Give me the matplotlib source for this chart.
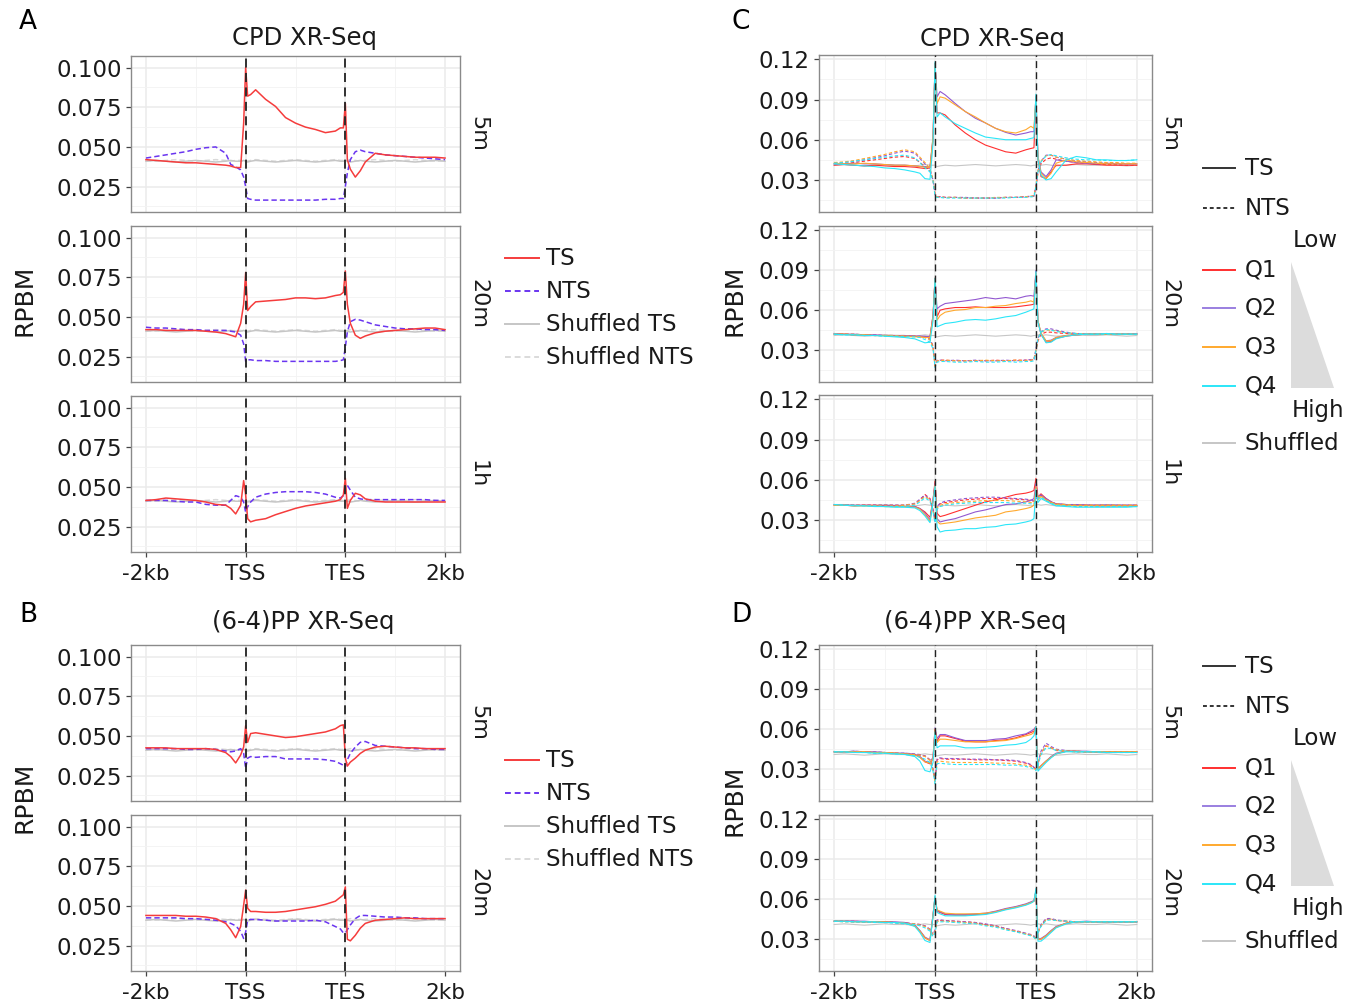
import matplotlib
matplotlib.use("Agg")
import matplotlib.pyplot as plt
import numpy as np
from matplotlib.patches import Polygon

W, H = 1360, 1005
plt.rcParams["font.family"] = ["DejaVu Sans"]

# bin positions: -2kb=0, TSS=1, TES=2, 2kb=3
POS = [0, 0.1, 0.2, 0.3, 0.4, 0.5, 0.6, 0.7, 0.8, 0.85, 0.9, 0.95, 0.98, 1.0,
       1.02, 1.05, 1.1, 1.2, 1.3, 1.4, 1.5, 1.6, 1.7, 1.8, 1.9, 1.95, 1.98, 2.0,
       2.02, 2.05, 2.1, 2.15, 2.2, 2.3, 2.4, 2.5, 2.6, 2.7, 2.8, 2.9, 3.0]
X_TICKS = [0, 1, 2, 3]
X_TICK_LABELS = ["-2kb", "TSS", "TES", "2kb"]
AB_YTICKS = [0.025, 0.05, 0.075, 0.1]
AB_YLABELS = ["0.025", "0.050", "0.075", "0.100"]
CD_YTICKS = [0.03, 0.06, 0.09, 0.12]
CD_YLABELS = ["0.03", "0.06", "0.09", "0.12"]

# values in RPBM x 1000
# ---- A: CPD XR-Seq, TS / NTS ----
A5_TS = [42, 41.5, 41, 40.5, 40, 40, 39.5, 39, 38.5, 38, 37, 37, 65, 100,
         82, 83, 86, 80, 75.5, 68.5, 65, 62.5, 61, 59, 60, 62, 62, 77.5,
         42, 36, 31, 35, 40.5, 46, 45, 44.5, 44, 43.5, 43.5, 43.5, 43]
A5_NTS = [43, 44, 45, 46, 47, 48.5, 49.5, 50, 46, 39, 37.5, 35.5, 31, 25,
          17.5, 17, 16.5, 16.5, 16.5, 16.5, 16.5, 16.5, 16.5, 17, 17, 17.5, 17.5, 25,
          33.5, 42, 47, 48, 47, 46, 45, 44.5, 44, 43.5, 43, 42.5, 42]
A20_TS = [42, 42, 41.5, 41.5, 41.5, 41.5, 41, 40.5, 39.5, 38.5, 37.5, 46, 58, 78,
          54, 56.5, 59.5, 60, 60.5, 61, 62, 62, 61.5, 62, 63.5, 64, 65.5, 79,
          58, 46, 38.5, 36.5, 38, 40, 41, 41.5, 42, 42.5, 43, 43, 42]
A20_NTS = [43.5, 43, 43, 42.5, 42, 42, 41.5, 41.5, 41.5, 41, 40.5, 38.5, 33, 22,
           23, 23, 22.5, 22.5, 22, 22, 22, 22, 22, 22, 22, 22.5, 23, 31,
           40.5, 47, 48.5, 48, 47, 45, 44, 43, 42.5, 42.5, 42, 42, 41.5]
A1_TS = [41.5, 42, 43, 42.5, 42, 41.5, 40.5, 39, 38.5, 36.5, 33, 38.5, 54, 45,
         30, 28, 29, 30, 32.5, 34.5, 36.5, 38, 39, 40, 41, 42, 45, 55.5,
         36.5, 41.5, 46, 45, 42.5, 41, 40.5, 40.5, 40.5, 40.5, 40.5, 40.5, 40.5]
A1_NTS = [41.5, 41.5, 41.5, 41, 40.5, 40.5, 39, 38.5, 38.5, 41.5, 44.5, 43.5, 40.5, 34,
          37.5, 40.5, 43.5, 45.5, 46.5, 47, 47, 47, 46.5, 45.5, 43.5, 43, 44.5, 50,
          51, 48, 43.5, 42.5, 42, 42, 42, 42, 42, 42, 42, 41.5, 41.5]

# ---- B: (6-4)PP XR-Seq, TS / NTS ----
B5_TS = [42.5, 42.5, 42.5, 42, 42, 42, 42, 41.5, 39.5, 37, 33, 38, 43, 56.5,
         46, 51.5, 52, 51, 50, 49, 49.5, 50.5, 51.5, 52.5, 54.5, 56.5, 57, 36,
         31, 33.5, 36, 39, 41, 43, 43.5, 43, 42.5, 42.5, 42, 42, 42]
B5_NTS = [42, 42, 42, 42, 41.5, 41.5, 42, 41.5, 40.5, 40, 40.5, 42, 39, 29.5,
          36, 37, 36.5, 37, 37, 35.5, 35.5, 35.5, 35.5, 35, 34, 32.5, 31.5, 30.5,
          35, 39, 43, 46, 46.5, 44, 43.5, 43, 42.5, 42, 42, 41.5, 41.5]
B20_TS = [44, 44, 44, 44, 43.5, 43.5, 43, 42, 39, 35, 30, 37, 50.5, 60,
          48.5, 46.5, 46.5, 46, 46, 46.5, 47.5, 48.5, 49.5, 51, 53, 55.5, 57, 62,
          29, 28, 31.5, 36, 39, 41, 41.5, 42, 42.5, 42, 42, 42, 42]
B20_NTS = [42.5, 42.5, 42.5, 42.5, 42, 42, 41.5, 41, 40, 39, 37.5, 34, 29.5, 33.5,
           41, 41.5, 41.5, 41, 40.5, 40.5, 40.5, 40.5, 41, 40, 37, 35.5, 33, 33,
           35, 38, 42, 44, 44, 43.5, 43, 43, 42.5, 42.5, 42, 42, 42]

SHUF_TS = [41, 41.5, 41, 40.5, 41, 41.5, 41, 40.5, 41, 41.5, 41, 41, 41.5, 41,
           40.5, 41, 41.5, 41, 40.5, 41, 41.5, 41, 40.5, 41, 41.5, 41, 41, 41.5,
           41, 40.5, 41, 41.5, 41, 40.5, 41, 41.5, 41, 40.5, 41, 41.5, 41]
SHUF_NTS = [41.5, 41, 41.5, 42, 41.5, 41, 41.5, 42, 41.5, 41, 41.5, 41.5, 41, 41.5,
            41, 41.5, 42, 41.5, 41, 41.5, 42, 41.5, 41, 41.5, 42, 41.5, 41.5, 41,
            41.5, 42, 41.5, 41, 41.5, 42, 41.5, 41, 41.5, 42, 41.5, 41, 41.5]

# ---- C: CPD XR-Seq by expression quartile ----
C5_Q1 = [41, 41.5, 41, 40.5, 41, 40.5, 40, 40, 39.5, 39, 38.5, 39, 60, 117,
         80, 80, 78.5, 71, 65, 60, 56, 53.5, 51, 50, 52.5, 53.5, 54, 90,
         45, 32.5, 31, 36, 41, 41, 42, 42, 41.5, 41, 41, 41, 41]
C5_Q2 = [42, 42, 42.5, 42, 42, 41.5, 41, 41, 40.5, 40, 40, 39.5, 62, 117,
         92, 96, 93.5, 87, 81, 76, 72.5, 68.5, 65.5, 63.5, 65, 66, 66, 92,
         47.5, 36, 32.5, 37.5, 45, 44, 43, 42.5, 42, 42.5, 42, 42, 42]
C5_Q3 = [42.5, 42, 42, 42.5, 42, 41.5, 41, 41, 40.5, 40, 39.5, 39.5, 62, 117,
         87, 92, 91, 86, 81, 77, 72.5, 68.5, 66, 65, 67.5, 70, 68.5, 92,
         47, 35, 31, 35, 42.5, 45, 43.5, 43, 42.5, 42, 42, 42, 42]
C5_Q4 = [42, 41.5, 41, 40.5, 40, 39, 38.5, 37.5, 36, 35, 31, 30.5, 57, 118,
         77, 80, 77, 72, 68.5, 65, 62, 61, 60, 60, 60, 61, 61.5, 94,
         45, 33.5, 30, 31, 36, 45, 47.5, 46.5, 45, 45, 44.5, 44.5, 45]
C5_N1 = [42, 42, 43, 44, 45, 46, 47, 47.5, 46, 43, 40, 37, 30, 20,
         17.5, 17.5, 17, 17, 16.5, 16.5, 16.5, 16.5, 17, 17, 17.5, 17.5, 18, 25,
         35, 42, 45.5, 46.5, 45.5, 44, 43, 42.5, 42, 41.5, 41.5, 41, 41]
C5_N2 = [42.5, 43, 44, 45, 46.5, 48, 50, 51.5, 50, 46, 42, 38, 30, 19,
         17.5, 17.5, 17, 17, 17, 16.5, 16.5, 16.5, 17, 17, 17.5, 18, 18, 26,
         37, 44, 48.5, 48.5, 47, 45.5, 44, 43.5, 43, 42.5, 42.5, 42, 42]
C5_N3 = [43, 43.5, 44.5, 46, 47.5, 49, 51, 52.5, 51, 47, 43, 38.5, 30, 19,
         17.5, 17, 17, 17, 16.5, 16.5, 16.5, 17, 17, 17, 17.5, 18, 18, 26,
         37, 44, 48, 48.5, 47, 45.5, 44.5, 44, 43.5, 43, 43, 42.5, 42.5]
C5_N4 = [42.5, 43, 44, 45, 46, 47, 48, 48.5, 46.5, 43, 39, 36, 29, 18,
         17, 17, 16.5, 16.5, 16.5, 16.5, 16.5, 16.5, 16.5, 17, 17, 17.5, 17.5, 25,
         36, 43.5, 48, 49, 48, 46.5, 45.5, 45, 45, 44.5, 44.5, 44.5, 45]

C20_Q1 = [42, 42, 41.5, 41.5, 41, 41, 41, 40.5, 40.5, 40, 40, 40, 56, 84,
          55, 60, 61, 62, 62, 62.5, 62, 62, 62, 62.5, 63.5, 64, 64.5, 88,
          52, 42, 36, 36.5, 39, 40.5, 41.5, 42, 42, 42, 42, 42, 42]
C20_Q2 = [42.5, 42, 42, 41.5, 41.5, 41, 41, 41, 40.5, 40.5, 40.5, 40, 56, 84,
          61, 63, 65, 66, 67, 68, 69.5, 68.5, 69.5, 68.5, 70.5, 71, 70.5, 90,
          52, 42, 37, 37.5, 39.5, 41, 41.5, 42, 42, 42.5, 42, 42, 42.5]
C20_Q3 = [42, 42, 41.5, 41.5, 41, 41, 40.5, 40.5, 40, 40, 39.5, 39.5, 55, 84,
          52.5, 56, 58.5, 60, 60.5, 62, 62, 63, 63.5, 65, 66, 67, 66, 88,
          52, 43, 37, 37, 39.5, 41, 41.5, 42, 42, 42, 42, 42, 42]
C20_Q4 = [42, 41.5, 41.5, 41, 41, 40.5, 40, 39.5, 38.5, 37, 35.5, 36, 52, 84,
          47.5, 48.5, 50, 51, 52.5, 53, 52.5, 53.5, 55, 56, 58.5, 60, 61, 89,
          51, 42, 35.5, 36, 38.5, 40.5, 41.5, 42, 42, 42.5, 42, 42, 42]
C20_N1 = [42, 42, 41.5, 41.5, 41, 41, 41, 40.5, 40.5, 40, 39.5, 38, 33, 18,
          22, 22.5, 22.5, 22, 22, 22, 22, 22.5, 22, 22.5, 22.5, 22.5, 23, 30,
          37, 42, 43.5, 43.5, 43, 42.5, 42, 42, 42, 42, 42, 42, 42]
C20_N2 = [42.5, 42, 42, 41.5, 41.5, 41, 41, 41, 40.5, 40.5, 40, 38.5, 33, 18,
          22.5, 22.5, 22, 22.5, 22, 22.5, 22, 22, 22.5, 22, 22.5, 23, 23, 31,
          39, 44, 46, 46, 45, 43.5, 42.5, 42, 42, 42, 42, 42, 42]
C20_N3 = [42, 42, 42, 41.5, 41, 41, 41, 40.5, 40.5, 40, 39.5, 38, 32.5, 18,
          22, 22, 22.5, 22, 22, 22, 22.5, 22, 22, 22.5, 22, 22.5, 23, 30,
          38.5, 43.5, 45, 45, 44.5, 43, 42.5, 42, 42, 42, 42, 42, 42]
C20_N4 = [42, 41.5, 41.5, 41, 41, 40.5, 40.5, 40, 40, 39.5, 38, 36, 31, 17,
          21, 21.5, 21.5, 21, 21, 21.5, 21, 21, 21.5, 21, 21.5, 21.5, 22, 30,
          38.5, 43.5, 45.5, 45, 44, 43, 42.5, 42, 42, 42, 42, 42, 42]

C1_Q1 = [41, 41, 40.5, 41, 41, 40.5, 40.5, 40, 40, 38.5, 36, 32, 45, 59,
         35, 32.5, 33.5, 36, 38.5, 41, 43.5, 45, 47, 49, 50, 51, 52, 61,
         47, 49.5, 46, 43.5, 42, 41, 41, 41, 40.5, 40.5, 40.5, 40.5, 40.5]
C1_Q2 = [41.5, 41, 41, 41, 40.5, 40.5, 40.5, 40, 40, 38.5, 35, 30, 45, 57,
         31, 28.5, 29.5, 31, 33.5, 36, 37.5, 39.5, 41.5, 42, 43.5, 44.5, 46, 57,
         46, 48.5, 46, 43.5, 42, 41.5, 41, 41, 41, 41, 41, 41, 41]
C1_Q3 = [41, 41, 40.5, 40.5, 40.5, 40, 40, 40, 39.5, 38, 34, 29, 44, 56,
         29, 27, 27.5, 28.5, 30, 31.5, 32.5, 33.5, 36, 37, 38.5, 39.5, 41, 55,
         45, 47.5, 45, 43, 41.5, 41, 40.5, 40.5, 40.5, 40.5, 40.5, 40.5, 40.5]
C1_Q4 = [41.5, 41, 40.5, 40.5, 40, 40, 39.5, 39.5, 39, 37, 33, 28, 43, 55,
         25, 21, 22, 22.5, 23.5, 23.5, 24.5, 25, 26.5, 27, 28.5, 29.5, 31, 53,
         43, 46, 44, 42, 40.5, 40, 39.5, 39.5, 39.5, 39.5, 39.5, 39.5, 40]
C1_N1 = [41.5, 41, 41, 41, 41, 41, 41, 41, 42, 45, 49, 46, 38, 30,
         40, 42, 43, 44, 45, 45.5, 46, 46, 46, 45.5, 45, 44.5, 44, 45,
         47, 48, 45, 43, 42, 41.5, 41, 41, 41, 41, 41, 41, 41]
C1_N2 = [41.5, 41.5, 41, 41, 41, 41, 41, 41, 42.5, 45.5, 48.5, 45.5, 37.5, 29,
         40, 42.5, 44, 45, 46, 46.5, 47, 47, 46.5, 46, 45.5, 45, 44.5, 46,
         48, 48.5, 45.5, 43.5, 42, 41.5, 41.5, 41, 41, 41, 41, 41, 41]
C1_N3 = [41, 41, 41, 41, 40.5, 40.5, 40.5, 41, 42, 44.5, 47.5, 45, 37, 29,
         39, 41, 42, 43, 43.5, 44, 44.5, 44.5, 44.5, 44, 43.5, 43, 43, 45,
         47, 48, 45, 43, 42, 41.5, 41, 41, 41, 41, 41, 41, 41]
C1_N4 = [41.5, 41, 41, 40.5, 40.5, 40, 40, 40, 41, 43.5, 46.5, 44, 36, 28,
         38, 40, 41, 42, 42.5, 43, 43, 43, 43, 42.5, 42.5, 42, 42, 44,
         46, 47, 44.5, 42.5, 41, 40.5, 40, 40, 40, 40, 40, 40, 40]

# ---- D: (6-4)PP XR-Seq by expression quartile ----
D5_Q1 = [43, 43, 43, 43, 42.5, 42.5, 42, 41.5, 41, 39, 35.5, 34, 38, 60,
         51, 55, 55, 53, 51, 50.5, 50.5, 51.5, 52, 53.5, 56, 57.5, 58.5, 62,
         30, 32.5, 36, 39, 41.5, 43.5, 43.5, 43, 43, 43, 43, 43, 43]
D5_Q2 = [43, 43, 43.5, 43, 43, 42.5, 42, 42, 41, 39.5, 36, 35, 39, 61,
         53, 56, 56, 53.5, 51.5, 51.5, 51.5, 52.5, 53, 55, 56.5, 58.5, 60, 62,
         30, 32.5, 36, 39.5, 42, 43.5, 43.5, 43.5, 43, 43, 43, 43, 43]
D5_Q3 = [43, 43, 43, 43, 42.5, 42.5, 42, 41.5, 40.5, 39, 35.5, 34.5, 38, 60,
         50, 52.5, 52.5, 51.5, 50.5, 50.5, 50.5, 51, 51.5, 53, 55, 56, 57.5, 62,
         30, 32.5, 36, 39, 41.5, 43.5, 43.5, 43, 43, 43, 43, 43, 43]
D5_Q4 = [43, 43, 42.5, 42.5, 42, 42, 41.5, 41, 39.5, 36, 29, 28, 35, 58,
         46, 47.5, 47.5, 47.5, 46, 46, 46.5, 47, 48, 48.5, 50, 52.5, 55, 62,
         28.5, 31, 35, 38.5, 41.5, 43, 43, 43, 43, 42.5, 42.5, 42.5, 42.5]
D5_N1 = [43, 43, 43, 43, 42.5, 42.5, 42, 41.5, 41, 40.5, 40, 37, 30, 21,
         37, 38, 37.5, 37.5, 37.5, 37, 37, 37, 36.5, 36, 34.5, 33, 31, 30,
         34, 42, 47.5, 46, 44, 43.5, 43, 43, 43, 43, 43, 43, 43]
D5_N2 = [43, 43, 43.5, 43, 43, 42.5, 42, 42, 41.5, 41, 40, 37, 30, 21,
         38, 38.5, 38, 38, 37.5, 37.5, 37.5, 37, 37, 36.5, 35, 33.5, 31.5, 30,
         35, 43.5, 49.5, 47, 45, 44, 43.5, 43, 43, 43, 43, 43, 43]
D5_N3 = [43, 43, 43, 43, 42.5, 42.5, 42, 41.5, 41, 40.5, 39.5, 36.5, 29.5, 20,
         35.5, 36, 35.5, 35, 35, 35, 35, 34.5, 34.5, 34, 33, 32, 30.5, 29.5,
         34, 42, 47.5, 46, 44.5, 43.5, 43, 43, 43, 43, 43, 43, 43]
D5_N4 = [43, 43, 42.5, 42.5, 42, 42, 41.5, 41, 40, 39, 37.5, 35, 28.5, 19,
         34, 34.5, 34, 33.5, 33.5, 33.5, 33.5, 33.5, 33, 33, 32, 31, 30, 29,
         33, 41, 46, 45.5, 44, 43.5, 43, 43, 43, 42.5, 42.5, 42.5, 42.5]

D20_Q1 = [43.5, 43.5, 43.5, 43, 43, 43, 42.5, 42.5, 40, 36, 31, 29, 48, 61,
          51, 50, 48.5, 48, 48, 48.5, 49, 50.5, 52.5, 54, 56, 57.5, 58.5, 66,
          30, 30, 32.5, 36, 39, 42, 43, 43, 43, 43, 43, 43, 43]
D20_Q2 = [43.5, 43.5, 43.5, 43.5, 43, 43, 43, 42.5, 40.5, 36.5, 31.5, 29.5, 48.5, 62,
          51.5, 50.5, 49, 48.5, 48.5, 49, 49.5, 51, 53, 54.5, 56.5, 58, 59, 66,
          30.5, 30.5, 33, 36.5, 39.5, 42, 43, 43.5, 43, 43, 43, 43, 43]
D20_Q3 = [43.5, 43.5, 43, 43, 43, 43, 42.5, 42, 40, 36, 31, 29, 48, 62,
          52, 51, 49.5, 49, 49, 49, 49.5, 50.5, 52.5, 54, 56, 57.5, 58.5, 66,
          30, 30, 32.5, 36, 39, 42, 43, 43, 43, 43, 43, 43, 43]
D20_Q4 = [43.5, 43.5, 43, 43, 43, 42.5, 42.5, 42, 39.5, 35, 29, 27.5, 47, 63,
          50, 49, 47.5, 47.5, 47.5, 48, 48.5, 50, 52, 53.5, 55.5, 57, 58.5, 68,
          28.5, 28.5, 31.5, 35, 38.5, 41.5, 43, 43, 43, 43, 43, 43, 43]
D20_N1 = [43.5, 43.5, 43, 43, 43, 43, 42.5, 42, 41.5, 41, 40, 37, 33, 36,
          44, 44, 44, 43.5, 43, 42.5, 41, 40, 38, 36, 34, 33, 32, 30,
          35, 40, 45, 45, 44, 43.5, 43, 43, 43, 43, 43, 43, 43]
D20_N2 = [43.5, 43.5, 43.5, 43, 43, 43, 42.5, 42.5, 41.5, 41, 40, 37.5, 33.5, 37,
          44.5, 44.5, 44, 43.5, 43, 42.5, 41.5, 40, 38, 36.5, 34.5, 33.5, 32.5, 30.5,
          35.5, 41, 45.5, 45.5, 44.5, 43.5, 43, 43, 43, 43, 43, 43, 43]
D20_N3 = [43.5, 43, 43, 43, 43, 42.5, 42.5, 42, 41.5, 40.5, 39.5, 37, 33, 35.5,
          43.5, 43.5, 43.5, 43, 42.5, 42, 40.5, 39.5, 37.5, 36, 34, 33, 32, 30,
          35, 40, 44.5, 45, 44, 43.5, 43, 43, 43, 43, 43, 43, 43]
D20_N4 = [43.5, 43, 43, 43, 42.5, 42.5, 42, 41.5, 41, 40, 38.5, 36, 32, 34.5,
          43, 43, 43, 42.5, 42, 41.5, 40, 39, 37, 35.5, 33.5, 32.5, 31.5, 29.5,
          34.5, 39.5, 44, 44.5, 44, 43.5, 43, 43, 43, 43, 43, 43, 43]

SHUF_Q = [41, 41.5, 41, 40.5, 41, 41.5, 41, 41, 40.5, 41, 41.5, 41, 41, 41,
          40, 40.5, 41, 40.5, 41, 41.5, 41, 40.5, 41, 41.5, 41, 40.5, 41, 41,
          41.5, 41, 41.5, 41, 40.5, 41, 41.5, 41, 41, 41.5, 41, 40.5, 41]

RED = "#f53c3c"
BLUE = "#6a35f0"
GREY = "#c6c6c6"
LGREY = "#dadada"
Q_COLORS = ["#ff2f2f", "#9257d0", "#ffa92e", "#2be6f8"]
TXT = "#1a1a1a"


def add_px_axes(fig, left, top, right, bottom):
    return fig.add_axes([left / W, 1 - bottom / H, (right - left) / W, (bottom - top) / H])


def style_panel(ax, ylim, yticks, ylabels, yminor, show_x, vlw):
    ax.set_xlim(-0.15, 3.15)
    ax.set_ylim(*ylim)
    ax.set_xticks(X_TICKS)
    ax.set_xticks([0.5, 1.5, 2.5], minor=True)
    ax.set_yticks(yticks)
    ax.set_yticklabels(ylabels)
    ax.set_yticks(yminor, minor=True)
    ax.grid(which="major", color="#ebebeb", lw=1.1)
    ax.grid(which="minor", color="#f3f3f3", lw=0.6)
    ax.set_axisbelow(True)
    ax.tick_params(which="minor", length=0)
    ax.tick_params(which="major", length=3.5, width=0.9, color="#444444",
                   labelcolor=TXT, pad=3)
    ax.tick_params(axis="y", labelsize=16.5)
    if show_x:
        ax.set_xticklabels(X_TICK_LABELS)
        ax.tick_params(axis="x", pad=5, labelsize=15.5)
    else:
        ax.tick_params(axis="x", length=0, labelbottom=False)
    for s in ax.spines.values():
        s.set_color("#8a8a8a")
        s.set_linewidth(1.0)
    for xv in (1, 2):
        ax.axvline(xv, color="#222222", lw=vlw, ls=(0, (5, 3)), zorder=5)


def strand_panel(ax, ts, nts, show_x):
    x = np.array(POS)
    ax.plot(x, np.array(SHUF_NTS) / 1000, color=LGREY, lw=1.1, ls=(0, (3.5, 2)))
    ax.plot(x, np.array(SHUF_TS) / 1000, color=GREY, lw=1.1)
    ax.plot(x, np.array(nts) / 1000, color=BLUE, lw=1.1, ls=(0, (3.5, 2)))
    ax.plot(x, np.array(ts) / 1000, color=RED, lw=1.1)
    style_panel(ax, (0.009, 0.1073), AB_YTICKS, AB_YLABELS,
                [0.0125, 0.0375, 0.0625, 0.0875], show_x, 1.3)


def quartile_panel(ax, tss, ntss, show_x):
    x = np.array(POS)
    ax.plot(x, np.array(SHUF_Q) / 1000, color=GREY, lw=0.8)
    for ts, nts, c in zip(tss, ntss, Q_COLORS):
        ax.plot(x, np.array(nts) / 1000, color=c, lw=0.8, ls=(0, (3, 2)))
        ax.plot(x, np.array(ts) / 1000, color=c, lw=0.8)
    style_panel(ax, (0.0061, 0.1232), CD_YTICKS, CD_YLABELS,
                [0.015, 0.045, 0.075, 0.105], show_x, 1.0)


fig = plt.figure(figsize=(W / 100, H / 100), dpi=100)

A_ROWS = [("5m", A5_TS, A5_NTS, 56, 212), ("20m", A20_TS, A20_NTS, 226, 382),
          ("1h", A1_TS, A1_NTS, 396, 552)]
B_ROWS = [("5m", B5_TS, B5_NTS, 645, 801), ("20m", B20_TS, B20_NTS, 815, 971)]
C_ROWS = [("5m", [C5_Q1, C5_Q2, C5_Q3, C5_Q4], [C5_N1, C5_N2, C5_N3, C5_N4], 55, 212),
          ("20m", [C20_Q1, C20_Q2, C20_Q3, C20_Q4], [C20_N1, C20_N2, C20_N3, C20_N4], 226, 382),
          ("1h", [C1_Q1, C1_Q2, C1_Q3, C1_Q4], [C1_N1, C1_N2, C1_N3, C1_N4], 395, 552)]
D_ROWS = [("5m", [D5_Q1, D5_Q2, D5_Q3, D5_Q4], [D5_N1, D5_N2, D5_N3, D5_N4], 645, 801),
          ("20m", [D20_Q1, D20_Q2, D20_Q3, D20_Q4], [D20_N1, D20_N2, D20_N3, D20_N4], 815, 971)]

strips = []
for rows, left, right in ((A_ROWS, 131, 460), (B_ROWS, 131, 460)):
    for i, (lab, ts, nts, top, bot) in enumerate(rows):
        ax = add_px_axes(fig, left, top, right, bot)
        strand_panel(ax, ts, nts, i == len(rows) - 1)
        strips.append((lab, right + 18, (top + bot) / 2))
for rows, left, right in ((C_ROWS, 819, 1152), (D_ROWS, 819, 1152)):
    for i, (lab, tss, ntss, top, bot) in enumerate(rows):
        ax = add_px_axes(fig, left, top, right, bot)
        quartile_panel(ax, tss, ntss, i == len(rows) - 1)
        strips.append((lab, right + 17, (top + bot) / 2))

# overlay in pixel coordinates for labels and legends
ov = fig.add_axes([0, 0, 1, 1], zorder=10)
ov.set_xlim(0, W)
ov.set_ylim(H, 0)
ov.axis("off")
ov.patch.set_alpha(0)

for lab, x, y in strips:
    ov.text(x, y, lab, rotation=-90, ha="center", va="center", fontsize=16, color=TXT)

for letter, x, y in (("A", 28, 22), ("B", 28, 615), ("C", 741, 22), ("D", 741, 615)):
    ov.text(x, y, letter, ha="center", va="center", fontsize=19, color="black")
for title, x, y in (("CPD XR-Seq", 305, 38), ("(6-4)PP XR-Seq", 303, 622),
                    ("CPD XR-Seq", 993, 39), ("(6-4)PP XR-Seq", 975, 622)):
    ov.text(x, y, title, ha="center", va="center", fontsize=17.5, color=TXT)
for x, y in ((25, 300), (25, 797), (734, 300), (734, 800)):
    ov.text(x, y, "RPBM", rotation=90, ha="center", va="center", fontsize=18, color=TXT)

# legends for A and B
AB_KEYS = [("TS", RED, "-"), ("NTS", BLUE, (0, (3, 2))),
           ("Shuffled TS", GREY, "-"), ("Shuffled NTS", LGREY, (0, (3, 2)))]
for y0 in (258, 760):
    for k, (lab, c, ls) in enumerate(AB_KEYS):
        y = y0 + k * 33
        ov.plot([505, 539], [y, y], color=c, ls=ls, lw=1.4)
        ov.text(546, y, lab, ha="left", va="center", fontsize=16.5, color=TXT)

# legends for C and D
CD_KEYS = [("TS", "#333333", "-", 0), ("NTS", "#333333", (0, (2, 1.5)), 40),
           ("Q1", Q_COLORS[0], "-", 102), ("Q2", "#9a7fe0", "-", 140),
           ("Q3", Q_COLORS[2], "-", 179), ("Q4", Q_COLORS[3], "-", 218),
           ("Shuffled", GREY, "-", 275)]
for y0 in (168, 666):
    for lab, c, ls, dy in CD_KEYS:
        ov.plot([1203, 1235], [y0 + dy, y0 + dy], color=c, ls=ls, lw=1.4)
        ov.text(1245, y0 + dy, lab, ha="left", va="center", fontsize=16.5, color=TXT)
    ov.text(1315, y0 + 72, "Low", ha="center", va="center", fontsize=16.5, color=TXT)
    ov.text(1318, y0 + 242, "High", ha="center", va="center", fontsize=16.5, color=TXT)
    ov.add_patch(Polygon([[1291, y0 + 94], [1291, y0 + 220], [1334, y0 + 220]],
                         closed=True, facecolor="#dcdcdc", edgecolor="none"))

fig.savefig("out.png", dpi=100, facecolor="white")
